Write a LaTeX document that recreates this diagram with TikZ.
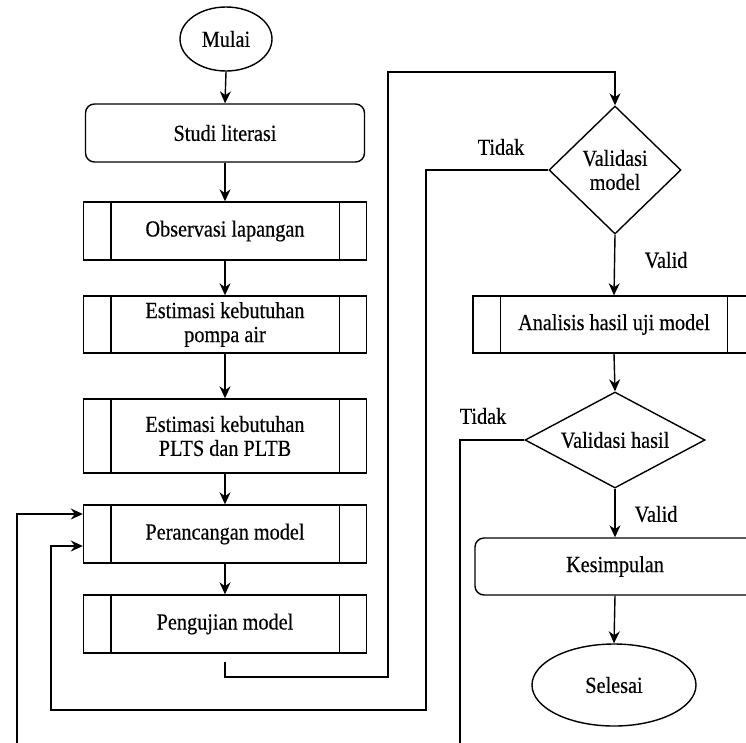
\documentclass[tikz,border=0pt]{standalone}
\usepackage{fontspec}
\setmainfont{Liberation Serif}[FakeStretch=0.88,FakeBold=0.4]
\usetikzlibrary{shapes.geometric,arrows.meta}
\begin{document}
\begin{tikzpicture}[x=1pt,y=-1pt,
  every node/.style={font=\fontsize{23}{24}\selectfont, align=center},
  base/.style={draw, line width=1.4pt, inner sep=2pt},
  term/.style={base, ellipse},
  rbox/.style={base, rectangle, rounded corners=9pt},
  proc/.style={base, rectangle},
  dec/.style={base, diamond, inner sep=0pt},
  arr/.style={line width=1.4pt, -{Stealth[length=12pt,width=11pt]}},
  lin/.style={line width=1.4pt},
  lbl/.style={inner sep=0pt}]
\useasboundingbox (0,0) rectangle (746,742);
\clip (0,0) rectangle (746,742);
\fill[white] (0,0) rectangle (746,742);

\node[term, minimum width=92pt, minimum height=64pt] (mulai) at (226,39) {Mulai};
\node[rbox, minimum width=279pt, minimum height=58pt] (studi) at (225,133) {Studi literasi};
\node[proc, minimum width=283pt, minimum height=58pt] (obs) at (225,231) {Observasi lapangan};
\node[proc, minimum width=283pt, minimum height=57pt] (pompa) at (225,324.5) {Estimasi kebutuhan\\pompa air};
\node[proc, minimum width=283pt, minimum height=74pt] (plts) at (225,436) {Estimasi kebutuhan\\PLTS dan PLTB};
\node[proc, minimum width=283pt, minimum height=58pt] (peran) at (225,534) {Perancangan model};
\node[proc, minimum width=283pt, minimum height=58pt] (uji) at (225,624) {Pengujian model};

\node[dec, aspect=1.03, minimum width=132pt, minimum height=128pt] (vm) at (615,170) {Validasi\\model};
\node[proc, minimum width=282pt, minimum height=57pt] (anal) at (614,324.5) {Analisis hasil uji model};
\node[dec, aspect=1.875, minimum width=180pt, minimum height=96pt] (vh) at (615,440) {Validasi hasil};
\node[rbox, minimum width=280pt, minimum height=57pt] (kes) at (615,566.5) {Kesimpulan};
\node[term, minimum width=164pt, minimum height=82pt] (sel) at (614,685) {Selesai};

% inner side lines of process boxes
\foreach \n in {obs,pompa,plts,peran,uji,anal}{
  \draw[lin] ([xshift=28pt]\n.north west) -- ([xshift=28pt]\n.south west);
  \draw[lin] ([xshift=-28pt]\n.north east) -- ([xshift=-28pt]\n.south east);
}

% main flow
\draw[arr] (mulai.south) -- (studi.north);
\draw[arr] (studi.south) -- (obs.north);
\draw[arr] (obs.south) -- (pompa.north);
\draw[arr] (pompa.south) -- (plts.north);
\draw[arr] (plts.south) -- (peran.north);
\draw[arr] (peran.south) -- (uji.north);

\coordinate (c1) at (388,677);
\coordinate (c2) at (388,72);
\draw[arr] ([yshift=-8pt]uji.south) |- (c1) -- (c2) -| (vm.north);

\draw[arr] (vm.south) -- (anal.north);
\draw[arr] (anal.south) -- (vh.north);
\draw[arr] (vh.south) -- (kes.north);
\draw[arr] (kes.south) -- (sel.north);

% Tidak loops
\coordinate (c3) at (426,710);
\coordinate (c4) at (51,710);
\draw[arr] (vm.west) -| (c3) -- (c4) |- ([yshift=-12pt]peran.west);

\coordinate (c5) at (460,770);
\coordinate (c6) at (17,770);
\draw[arr] (vh.west) -| (c5) -- (c6) |- ([yshift=20pt]peran.west);

% labels
\node[lbl] (t1) at (501,147) {Tidak};
\node[lbl] (v1) at (666,260) {Valid};
\node[lbl] (t2) at (483,416) {Tidak};
\node[lbl] (v2) at (656,514) {Valid};
\end{tikzpicture}
\end{document}
